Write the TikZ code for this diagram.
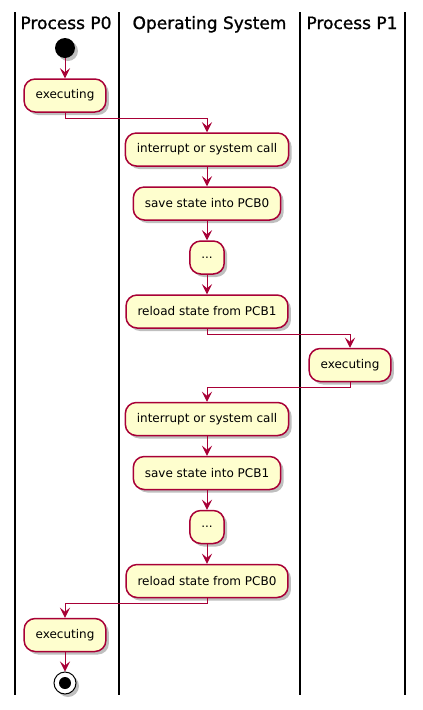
\documentclass[tikz,border=0pt]{standalone}
\usepackage{fontspec}
\setmainfont{DejaVu Sans}
\newfontfamily\hdrfont[FakeBold=1.2]{DejaVu Sans}
\usetikzlibrary{arrows.meta,shadows}
\definecolor{actfill}{HTML}{FEFECE}
\definecolor{actline}{HTML}{A80036}
\tikzset{
  shd/.style={drop shadow={shadow xshift=3pt,shadow yshift=-3pt,opacity=0.25,fill=black}},
  act/.style={draw=actline,fill=actfill,line width=1.5pt,rounded corners=11pt,
    minimum height=33pt,inner xsep=11.5pt,inner ysep=0pt,
    font=\fontsize{12}{14}\selectfont,shd},
  flow/.style={draw=actline,line width=1pt,-{Stealth[length=10pt,width=10pt,inset=4pt]}},
  lane/.style={draw=black,line width=1.5pt},
  hdr/.style={font=\hdrfont\fontsize{17}{20}\selectfont,inner sep=0pt,anchor=base},
  startdot/.style={circle,fill=black,minimum size=20pt,inner sep=0pt,shd},
  enddot/.style={circle,draw=black,fill=white,line width=1pt,minimum size=22pt,inner sep=0pt,shd},
}
\begin{document}
\begin{tikzpicture}[x=1pt,y=-1pt]
\useasboundingbox (0,0) rectangle (423,710);
% lanes
\draw[lane] (15,12) -- (15,695);
\draw[lane] (119,12) -- (119,695);
\draw[lane] (300,12) -- (300,695);
\draw[lane] (405,12) -- (405,695);
\node[hdr] (h0) at (66,29) {Process P0};
\node[hdr] (h1) at (209.5,29) {Operating System};
\node[hdr] (h2) at (352,29) {Process P1};
% nodes
\node[startdot] (s) at (65,48) {};
\node[act] (a1) at (65,95.5) {executing};
\node[act] (a2) at (207,149.5) {interrupt or system call};
\node[act] (a3) at (207,203.5) {save state into PCB0};
\node[act] (a4) at (207,257.5) {...};
\node[act] (a5) at (207,311.5) {reload state from PCB1};
\node[act] (a6) at (350,365) {executing};
\node[act] (a7) at (207,419) {interrupt or system call};
\node[act] (a8) at (207,473) {save state into PCB1};
\node[act] (a9) at (207,527) {...};
\node[act] (a10) at (207,581) {reload state from PCB0};
\node[act] (a11) at (65,635) {executing};
\node[enddot] (e) at (65,683) {};
\fill[black] (e.center) circle (6);
% flows
\draw[flow] (s) -- (a1);
\draw[flow] (a1.south) -- ++(0,5.5) -| (a2.north);
\draw[flow] (a2) -- (a3);
\draw[flow] (a3) -- (a4);
\draw[flow] (a4) -- (a5);
\draw[flow] (a5.south) -- ++(0,5.5) -| (a6.north);
\draw[flow] (a6.south) -- ++(0,5.5) -| (a7.north);
\draw[flow] (a7) -- (a8);
\draw[flow] (a8) -- (a9);
\draw[flow] (a9) -- (a10);
\draw[flow] (a10.south) -- ++(0,5.5) -| (a11.north);
\draw[flow] (a11) -- (e);
\end{tikzpicture}
\end{document}
